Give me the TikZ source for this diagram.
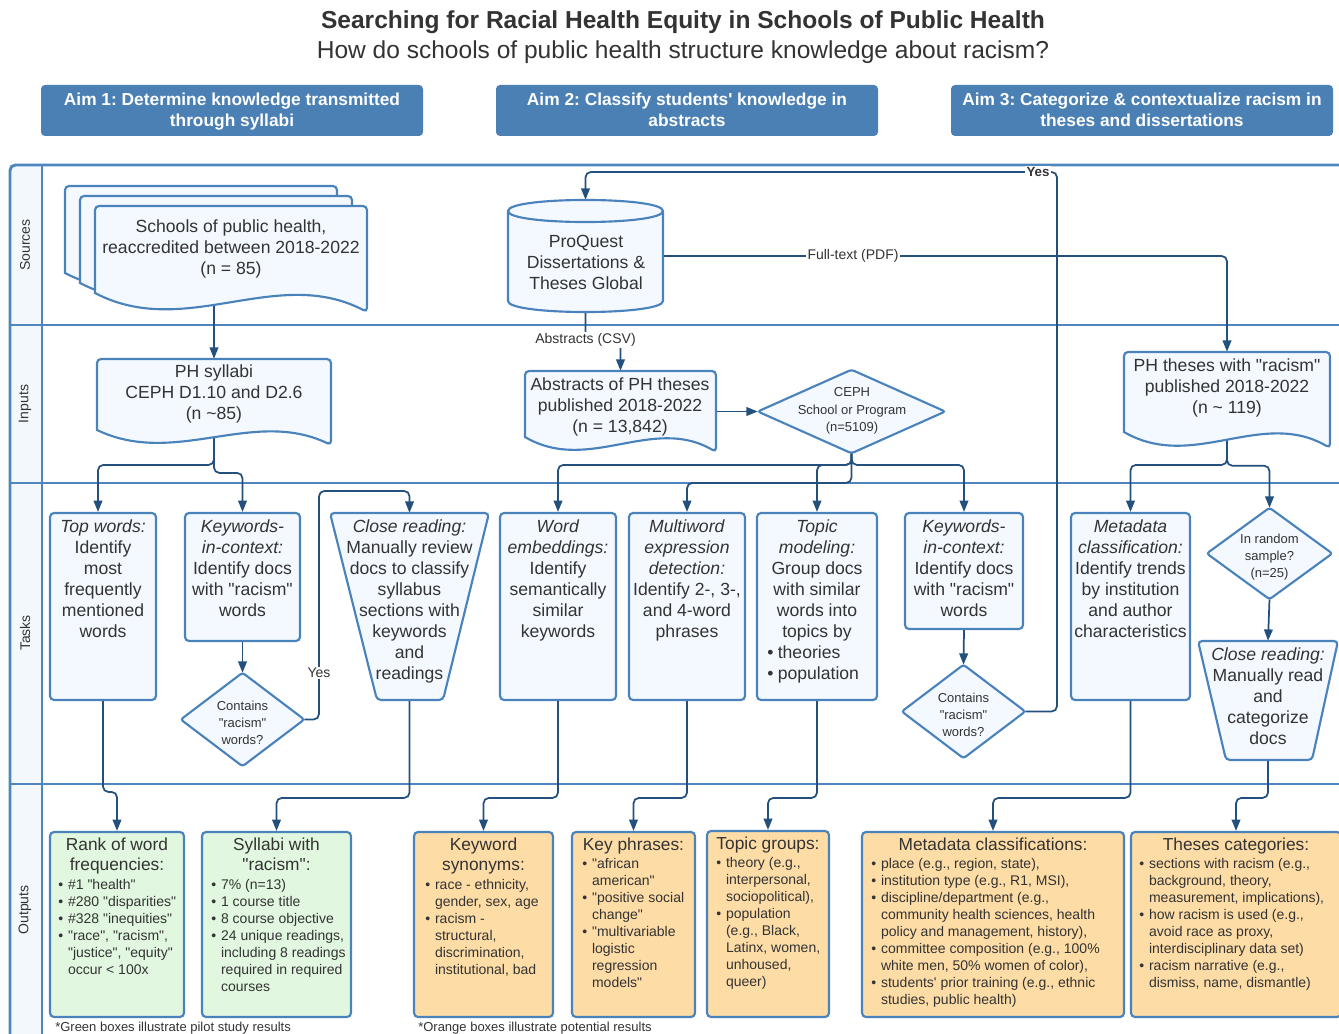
\documentclass[tikz,border=0pt]{standalone}
\usepackage{fontspec}
\setmainfont{Liberation Sans}[Ligatures=TeXOff]
\usetikzlibrary{arrows.meta,calc,fit}
\pgfdeclarelayer{lanes}
\pgfdeclarelayer{wires}
\pgfsetlayers{lanes,wires,main}

\definecolor{lanec}{HTML}{4E86BF}
\definecolor{boxc}{HTML}{4A82BC}
\definecolor{wirec}{HTML}{23507D}
\definecolor{aimc}{HTML}{4A80B3}
\definecolor{taskfill}{HTML}{F4F9FF}
\definecolor{greenfill}{HTML}{E1F7E0}
\definecolor{orangefill}{HTML}{FDDCA6}
\definecolor{textc}{HTML}{333333}
\definecolor{colfill}{HTML}{F3F8FD}

\newcommand\ftitle{\fontsize{18.4}{22}\selectfont}
\newcommand\faim{\fontsize{13}{15.75}\selectfont\bfseries}
\newcommand\ftask{\fontsize{13.2}{15.75}\selectfont}
\newcommand\fdia{\fontsize{9.75}{12.75}\selectfont}
\newcommand\fbul{\fontsize{10.5}{12.75}\selectfont}
\newcommand\fotl{\fontsize{13}{15}\selectfont}
\newcommand\flab{\fontsize{10.5}{12}\selectfont}
\newcommand\bpt{\makebox[0.7em][l]{\textbullet}}
\newcommand\bcont{\hspace*{0.7em}}

% document shape: name, x1, top, x2, left bottom, wave depth
\newcommand\docshape[6]{%
  \node[fit={(#2,#3)(#4,#5)}, inner sep=0pt] (#1) {};
  \draw[shapeline, fill=taskfill, rounded corners=3pt] (#2,#5) -- (#2,#3) -- (#4,#3) -- (#4,#5+#6)
    [sharp corners] .. controls ({(#2+2*#4)/3},#5-1.5*#6) and ({(2*#2+#4)/3},#5+2.5*#6) .. (#2,#5) -- cycle;}
% inverted trapezoid: name, top x1, top x2, top y, bottom x1, bottom x2, bottom y
\newcommand\trapshape[7]{%
  \node[fit={(#2,#4)(#3,#7)}, inner sep=0pt] (#1) {};
  \draw[shapeline, fill=taskfill, rounded corners=3pt] (#2,#4) -- (#3,#4) -- (#6,#7) -- (#5,#7) -- cycle;}
% decision diamond: name, x1, y1, x2, y2
\newcommand\diamshape[5]{%
  \node[fit={(#2,#3)(#4,#5)}, inner sep=0pt] (#1) {};
  \draw[shapeline, fill=taskfill, rounded corners=2pt] (#1.north) -- (#1.east) -- (#1.south) -- (#1.west) -- cycle;}

\begin{document}
\frenchspacing
\begin{tikzpicture}[x=0.75pt, y=-0.75pt,
  lane/.style={draw=lanec, line width=2.2pt},
  wire/.style={draw=wirec, line width=1.3pt, rounded corners=4pt, -{Triangle[length=8.5pt,width=6.5pt]}},
  shapeline/.style={draw=boxc, line width=1.6pt},
  taskbox/.style={shapeline, fill=taskfill, rounded corners=3pt, inner sep=0pt},
  greenbox/.style={shapeline, fill=greenfill, rounded corners=3pt, inner sep=0pt},
  orangebox/.style={shapeline, fill=orangefill, rounded corners=3pt, inner sep=0pt},
  aimbox/.style={fill=aimc, rounded corners=3pt, inner sep=0pt},
  % text nodes are placed by the baseline of their last line
  txt/.style={inner sep=0pt, text=textc, align=center, font=\ftask, anchor=base},
  diatxt/.style={txt, font=\fdia},
  aimtxt/.style={inner sep=0pt, text=white, align=center, font=\faim, anchor=base},
  otitle/.style={txt, font=\fotl},
  bullets/.style={inner sep=0pt, text=textc, align=left, font=\fbul, anchor=base west},
  wlabel/.style={fill=white, inner sep=1pt, text=textc, font=\flab},
  lanelabel/.style={rotate=90, inner sep=0pt, text=textc, font=\flab},
  note/.style={inner sep=0pt, text=textc, font=\fontsize{9.75}{12}\selectfont, anchor=base west}]

\useasboundingbox (0,0) rectangle (1339,1034);

% ---------- swimlanes ----------
\begin{pgfonlayer}{lanes}
  \fill[white] (0,0) rectangle (1339,1034);
  \fill[colfill] (10,165) rectangle (42,1040);
  \draw[lane, rounded corners=4pt] (1345,165) -- (10,165) -- (10,1040);
  \draw[lane] (42,165) -- (42,1040);
  \foreach \yy in {325,483,784} \draw[lane] (10,\yy) -- (1345,\yy);
  \node[lanelabel] (lsrc) at (25,245) {Sources};
  \node[lanelabel] (linp) at (25,404) {Inputs};
  \node[lanelabel] (ltsk) at (25,633) {Tasks};
  \node[lanelabel] (lout) at (25,910) {Outputs};
\end{pgfonlayer}

% ---------- heading ----------
\node[inner sep=0pt, text=textc, font=\ftitle\bfseries, anchor=base] (title) at (683,29)
  {Searching for Racial Health Equity in Schools of Public Health};
\node[inner sep=0pt, text=textc, font=\ftitle, anchor=base] (subtitle) at (683,59)
  {How do schools of public health structure knowledge about racism?};

\node[aimbox, fit={(41,85)(423,136)}] (aim1) {};
\node[aimtxt] (aim1-t) at (232,127) {Aim 1: Determine knowledge transmitted\\through syllabi};
\node[aimbox, fit={(496,85)(878,136)}] (aim2) {};
\node[aimtxt] (aim2-t) at (687,127) {Aim 2: Classify students' knowledge in\\abstracts};
\node[aimbox, fit={(951,85)(1333,136)}] (aim3) {};
\node[aimtxt] (aim3-t) at (1142,127) {Aim 3: Categorize \& contextualize racism in\\theses and dissertations};

% ---------- sources ----------
\docshape{schc}{65}{186}{337}{273}{19}
\docshape{schb}{80}{196}{352}{283}{19}
\docshape{sch}{95}{206}{367}{293}{19}
\node[txt] (sch-t) at (231,275) {Schools of public health,\\reaccredited between 2018-2022\\(n = 85)};

\node[fit={(508,200)(663,312)}, inner sep=0pt] (pq) {};
\draw[shapeline, fill=taskfill] (508,211) -- (508,301) .. controls (508,315.7) and (663,315.7) .. (663,301)
  -- (663,211) .. controls (663,196.3) and (508,196.3) .. (508,211) -- cycle;
\draw[shapeline] (508,211) .. controls (508,225.7) and (663,225.7) .. (663,211);
\node[txt] (pq-t) at (586,290) {ProQuest\\Dissertations \&\\Theses Global};

% ---------- inputs ----------
\docshape{syl}{97}{359}{331}{430}{15}
\node[txt] (syl-t) at (214,419) {PH syllabi\\CEPH D1.10 and D2.6\\(n \textasciitilde85)};
\docshape{abs}{525}{371}{716}{437}{15}
\node[txt] (abs-t) at (620,432) {Abstracts of PH theses\\published 2018-2022\\(n = 13,842)};
\diamshape{ceph}{758}{370}{945}{453}
\node[diatxt] (ceph-t) at (852,431) {CEPH\\School or Program\\(n=5109)};
\docshape{th}{1124}{352}{1330}{432}{16}
\node[txt] (th-t) at (1227,413) {PH theses with "racism"\\published 2018-2022\\(n \textasciitilde{} 119)};

% ---------- tasks ----------
\node[taskbox, fit={(50,513)(156,700)}] (tw) {};
\node[txt] (tw-t) at (103,637) {\textit{Top words:}\\Identify\\most\\frequently\\mentioned\\words};
\node[taskbox, fit={(185,513)(300,641)}] (kw1) {};
\node[txt] (kw1-t) at (242.5,616) {\textit{Keywords-}\\\textit{in-context:}\\Identify docs\\with "racism"\\words};
\diamshape{c1}{181}{673}{304}{766}
\node[diatxt] (c1-t) at (242.5,744) {Contains\\"racism"\\words?};
\trapshape{cr1}{330}{489}{513}{377}{443}{700}
\node[txt] (cr1-t) at (409.5,679) {\textit{Close reading:}\\Manually review\\docs to classify\\syllabus\\sections with\\keywords\\and\\readings};
\node[taskbox, fit={(500,513)(616,700)}] (we) {};
\node[txt] (we-t) at (558,637) {\textit{Word}\\\textit{embeddings:}\\Identify\\semantically\\similar\\keywords};
\node[taskbox, fit={(629,513)(745,700)}] (mw) {};
\node[txt] (mw-t) at (687,637) {\textit{Multiword}\\\textit{expression}\\\textit{detection:}\\Identify 2-, 3-,\\and 4-word\\phrases};
\node[taskbox, fit={(757,513)(877,700)}] (tm) {};
\node[txt] (tm-t) at (817,637) {\textit{Topic}\\\textit{modeling:}\\Group docs\\with similar\\words into\\topics by};
\node[txt, align=left, anchor=base west] (tm-b) at (767,679) {\makebox[0.6em][l]{\textbullet}theories\\\makebox[0.6em][l]{\textbullet}population};
\node[taskbox, fit={(905,513)(1023,629)}] (kw2) {};
\node[txt] (kw2-t) at (964,616) {\textit{Keywords-}\\\textit{in-context:}\\Identify docs\\with "racism"\\words};
\diamshape{c2}{902}{665}{1025}{758}
\node[diatxt] (c2-t) at (963.5,736) {Contains\\"racism"\\words?};
\node[taskbox, fit={(1071,513)(1190,700)}] (md) {};
\node[txt] (md-t) at (1130.5,637) {\textit{Metadata}\\\textit{classification:}\\Identify trends\\by institution\\and author\\characteristics};
\diamshape{rs}{1207}{508}{1332}{599}
\node[diatxt] (rs-t) at (1269.5,577) {In random\\sample?\\(n=25)};
\trapshape{cr2}{1198}{1338}{641}{1226}{1312}{760}
\node[txt] (cr2-t) at (1268,744) {\textit{Close reading:}\\Manually read\\and\\categorize\\docs};

% ---------- outputs ----------
\node[greenbox, fit={(50,832)(184,1017)}] (rank) {};
\node[otitle] (rank-t) at (117,870) {Rank of word\\frequencies:};
\node[bullets] (rank-b) at (58,974) {\bpt\#1 "health"\\\bpt\#280 "disparities"\\\bpt\#328 "inequities"\\\bpt"race", "racism",\\\bcont"justice", "equity"\\\bcont occur < 100x};

\node[greenbox, fit={(202,832)(351,1017)}] (sy) {};
\node[otitle] (sy-t) at (276.5,870) {Syllabi with\\"racism":};
\node[bullets] (sy-b) at (211,991) {\bpt 7\% (n=13)\\\bpt 1 course title\\\bpt 8 course objective\\\bpt 24 unique readings,\\\bcont including 8 readings\\\bcont required in required\\\bcont courses};

\node[orangebox, fit={(414,832)(553,1017)}] (ks) {};
\node[otitle] (ks-t) at (483.5,870) {Keyword\\synonyms:};
\node[bullets] (ks-b) at (425,974) {\bpt race - ethnicity,\\\bcont gender, sex, age\\\bpt racism -\\\bcont structural,\\\bcont discrimination,\\\bcont institutional, bad};

\node[orangebox, fit={(572,832)(695,1017)}] (kp) {};
\node[otitle] (kp-t) at (633.5,850) {Key phrases:};
\node[bullets] (kp-b) at (582,987) {\bpt"african\\\bcont american"\\\bpt"positive social\\\bcont change"\\\bpt"multivariable\\\bcont logistic\\\bcont regression\\\bcont models"};

\node[orangebox, fit={(707,831)(829,1017)}] (tg) {};
\node[otitle] (tg-t) at (768,849) {Topic groups:};
\node[bullets] (tg-b) at (716,986) {\bpt theory (e.g.,\\\bcont interpersonal,\\\bcont sociopolitical),\\\bpt population\\\bcont (e.g., Black,\\\bcont Latinx, women,\\\bcont unhoused,\\\bcont queer)};

\node[orangebox, fit={(862,832)(1124,1017)}] (mc) {};
\node[otitle] (mc-t) at (993,850) {Metadata classifications:};
\node[bullets] (mc-b) at (871,1004) {\bpt place (e.g., region, state),\\\bpt institution type (e.g., R1, MSI),\\\bpt discipline/department (e.g.,\\\bcont community health sciences, health\\\bcont policy and management, history),\\\bpt committee composition (e.g., 100\%\\\bcont white men, 50\% women of color),\\\bpt students' prior training (e.g., ethnic\\\bcont studies, public health)};

\node[orangebox, fit={(1131,832)(1341,1017)}] (tc) {};
\node[otitle] (tc-t) at (1236,850) {Theses categories:};
\node[bullets] (tc-b) at (1139,987) {\bpt sections with racism (e.g.,\\\bcont background, theory,\\\bcont measurement, implications),\\\bpt how racism is used (e.g.,\\\bcont avoid race as proxy,\\\bcont interdisciplinary data set)\\\bpt racism narrative (e.g.,\\\bcont dismiss, name, dismantle)};

\node[note] (gnote) at (55,1031) {*Green boxes illustrate pilot study results};
\node[note] (onote) at (418,1031) {*Orange boxes illustrate potential results};

% ---------- connectors ----------
\begin{pgfonlayer}{wires}
  % sources to inputs
  \draw[wire] (syl.north |- sch.south) -- (syl.north);
  \draw[wire] (c2.east) -| (1057,172) -| (pq.north);
  \draw[wire] (pq.east) -| (th.north);
  \draw[wire] (pq.south) -- ($(pq.south)+(0,28)$) -| (abs.north);
  \draw[wire] (abs.east |- ceph.west) -- (ceph.west);
  % inputs to tasks
  \draw[wire] (syl.south) |- ($(tw.north)+(-5,-47)$) -- ($(tw.north)+(-5,0)$);
  \draw[wire] (syl.south) |- ($(kw1.north)+(0,-39)$) -- (kw1.north);
  \draw[wire] (ceph.south) |- ($(we.north)+(0,-47)$) -- (we.north);
  \draw[wire] (ceph.south) |- ($(tm.north)+(0,-47)$) -- (tm.north);
  \draw[wire] (ceph.south) |- ($(kw2.north)+(0,-47)$) -- (kw2.north);
  \draw[wire] (ceph.south) |- ($(mw.north)+(0,-29)$) -- (mw.north);
  \draw[wire] (th.south) |- ($(md.north)+(0,-47)$) -- (md.north);
  \draw[wire] (th.south) |- ($(rs.north)+(0,-42)$) -- (rs.north);
  % within tasks
  \draw[wire] (kw1.south) -- (c1.north);
  \draw[wire] (c1.east) -| (319,491) -| (cr1.north);
  \draw[wire] (kw2.south) -- (c2.north);
  \draw[wire] (rs.south) -- (cr2.north);
  % tasks to outputs
  \draw[wire] (tw.south) |- ($(rank.north)+(0,-39)$) -- (rank.north);
  \draw[wire] (cr1.south) |- ($(sy.north)+(0,-33)$) -- (sy.north);
  \draw[wire] (we.south) |- ($(ks.north)+(0,-33)$) -- (ks.north);
  \draw[wire] (mw.south) |- ($(kp.north)+(0,-33)$) -- (kp.north);
  \draw[wire] (tm.south) |- ($(tg.north)+(0,-32)$) -- (tg.north);
  \draw[wire] (md.south) |- ($(mc.north)+(0,-33)$) -- (mc.north);
  \draw[wire] (cr2.south) |- ($(tc.north)+(0,-33)$) -- (tc.north);
  % connector labels
  \node[wlabel, font=\fontsize{10}{12}\selectfont\bfseries] (yes2) at (1038,172) {Yes};
  \node[wlabel] (yes1) at (319,673) {Yes};
  \node[wlabel] (fulltext) at (853,256) {Full-text (PDF)};
  \node[wlabel] (csv) at ($(pq.south)+(0,28)$) {Abstracts (CSV)};
\end{pgfonlayer}
\end{tikzpicture}
\end{document}
